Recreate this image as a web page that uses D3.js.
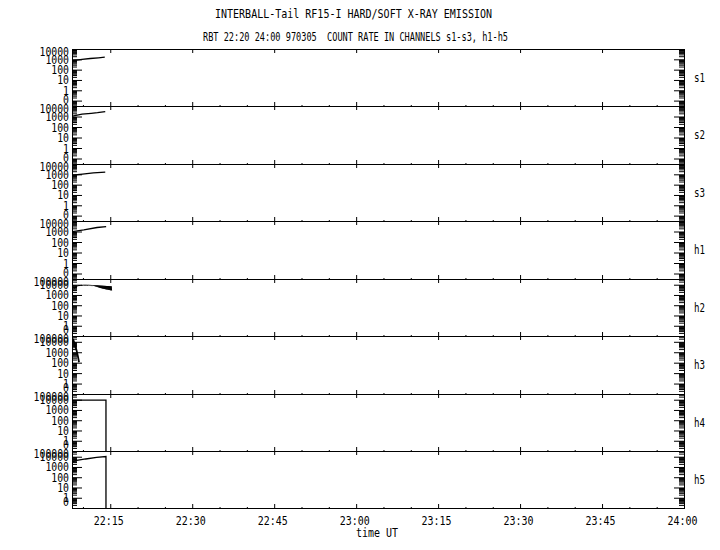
<!DOCTYPE html>
<html><head><meta charset="utf-8">
<script src="https://cdn.jsdelivr.net/npm/d3@7"></script>
<style>
body{margin:0;background:#fff}
svg{display:block}
text{font-family:"DejaVu Sans Mono",monospace;fill:#000;font-size:12px;white-space:pre}
</style>
</head><body>
<svg id="chart" width="720" height="550"></svg>
<script>
// ---------- data ----------
const title1 = "INTERBALL-Tail RF15-I HARD/SOFT X-RAY EMISSION";
const title2 = "RBT 22:20 24:00 970305  COUNT RATE IN CHANNELS s1-s3, h1-h5";
const xTitle = "time UT";
const channels = ["s1","s2","s3","h1","h2","h3","h4","h5"];
const timeStart = "22:08:00";
const timeEnd = "24:00:00";
const xTickLabels = ["22:15","22:30","22:45","23:00","23:15","23:30","23:45","24:00"];
const softDomain = [0.03, 10000];
const hardDomain = [0.1, 36000];
const softTickLabels = ["10000","1000","100","10","1","0"];
const softTickValues = [10000,1000,100,10,1,0];
const hardTickLabels = ["100000","10000","1000","100","10","1","0"];
const hardTickValues = [100000,10000,1000,100,10,1,0];

const s1Times  = ["22:08:05","22:08:50","22:09:50","22:11:20","22:12:50","22:14:00"];
const s1Counts = [750, 850, 1000, 1200, 1400, 1600];
const s2Times  = ["22:08:05","22:09:50","22:11:30","22:12:40","22:14:05"];
const s2Counts = [1100, 1700, 2000, 2300, 2900];
const s3Times  = ["22:08:05","22:09:55","22:11:55","22:14:05"];
const s3Counts = [830, 1050, 1380, 1620];
const h1Times  = ["22:08:05","22:10:10","22:12:35","22:14:15"];
const h1Counts = [970, 1420, 2400, 2950];
const h2Times  = ["22:08:20","22:08:40","22:09:05","22:09:35","22:10:05","22:10:35","22:10:56",
  "22:11:00","22:11:05","22:11:10","22:11:15","22:11:20","22:11:25","22:11:30","22:11:35","22:11:40","22:11:45","22:11:50","22:11:55",
  "22:12:00","22:12:05","22:12:10","22:12:15","22:12:20","22:12:25","22:12:30","22:12:35","22:12:40","22:12:45","22:12:50","22:12:55",
  "22:13:00","22:13:05","22:13:10","22:13:15","22:13:20","22:13:25","22:13:30","22:13:35","22:13:40","22:13:45","22:13:50","22:13:55",
  "22:14:00","22:14:05","22:14:10","22:14:15","22:14:20","22:14:25","22:14:30","22:14:35","22:14:40","22:14:45","22:14:50","22:14:55",
  "22:15:00","22:15:05","22:15:10","22:15:15"];
const h2Counts = [4000, 6000, 8000, 8500, 9000, 9000, 8800,
  9000,8800, 9000,8600, 9000,8400, 8900,8200, 8900,8000, 8800,7800,
  8800,7400, 8700,7000, 8700,6600, 8600,6200, 8500,5800, 8400,5400,
  8300,5000, 8200,4700, 8100,4500, 8000,4300, 7900,4100, 7800,3900,
  7700,3700, 7600,3500, 7500,3400, 7400,3300, 7300,3100, 7200,3000,
  7100,2850, 7000,2700];
const h3Times  = ["22:08:10","22:08:30","22:08:50","22:09:05","22:09:17"];
const h3Counts = [20000, 6000, 1500, 400, 110];
const h4Times  = ["22:08:05","22:14:13","22:14:13"];
const h4Counts = [9200, 9200, 0];
const h5Times  = ["22:08:05","22:08:52","22:10:30","22:12:30","22:14:13","22:14:13"];
const h5Counts = [3300, 4300, 6000, 8500, 10500, 0];

const seriesTimes  = [s1Times, s2Times, s3Times, h1Times, h2Times, h3Times, h4Times, h5Times];
const seriesCounts = [s1Counts, s2Counts, s3Counts, h1Counts, h2Counts, h3Counts, h4Counts, h5Counts];

// ---------- drawing ----------
const parseT = s => { const p = s.split(":").map(Number); return p[0]*60 + p[1] + (p[2]||0)/60; };
const svg = d3.select("#chart");
const left = 72, right = 684, plotTop = 49, panelH = 57.43;

const x = d3.scaleLinear().domain([parseT(timeStart), parseT(timeEnd)]).range([left, right]);
const majorX = xTickLabels.map(parseT);
const minorX = d3.range(parseT("22:10"), parseT("24:00"), 5).filter(t => Math.round(t) % 15 !== 0);

const isDecade = v => Math.abs(Math.log10(v) - Math.round(Math.log10(v))) < 1e-6;
const noDomain = g => g.select(".domain").remove();

svg.append("text").attr("x", 353.5).attr("y", 18).attr("text-anchor","middle").style("font-size","13px")
  .attr("textLength", 277).attr("lengthAdjust","spacingAndGlyphs").text(title1);
svg.append("text").attr("x", 355.5).attr("y", 41).attr("text-anchor","middle").style("font-size","13px")
  .attr("textLength", 305).attr("lengthAdjust","spacingAndGlyphs").text(title2);

channels.forEach((ch, i) => {
  const top = Math.round(plotTop + i*panelH), bottom = Math.round(plotTop + (i+1)*panelH);
  const soft = ch.startsWith("s") || ch === "h1";
  const dom = soft ? softDomain : hardDomain;
  const y = d3.scaleLog().domain(dom).range([bottom, top]).clamp(true);
  const g = svg.append("g");

  const all = y.ticks();
  const major = all.filter(isDecade), minor = all.filter(v => !isDecade(v));

  g.append("g").attr("transform", `translate(${left},0)`)
    .call(d3.axisRight(y).tickValues(minor).tickSize(5).tickFormat("")).call(noDomain);
  g.append("g").attr("transform", `translate(${left},0)`)
    .call(d3.axisRight(y).tickValues(major).tickSize(10).tickFormat("")).call(noDomain);
  g.append("g").attr("transform", `translate(${right},0)`)
    .call(d3.axisLeft(y).tickValues(minor).tickSize(5).tickFormat("")).call(noDomain);
  g.append("g").attr("transform", `translate(${right},0)`)
    .call(d3.axisLeft(y).tickValues(major).tickSize(10).tickFormat("")).call(noDomain);

  g.append("g").attr("transform", `translate(0,${top})`)
    .call(d3.axisBottom(x).tickValues(majorX).tickSize(4).tickFormat("")).call(noDomain);
  g.append("g").attr("transform", `translate(0,${top})`)
    .call(d3.axisBottom(x).tickValues(minorX).tickSize(1).tickFormat("")).call(noDomain);
  g.append("g").attr("transform", `translate(0,${bottom})`)
    .call(d3.axisTop(x).tickValues(majorX).tickSize(4).tickFormat("")).call(noDomain);
  g.append("g").attr("transform", `translate(0,${bottom})`)
    .call(d3.axisTop(x).tickValues(minorX).tickSize(1).tickFormat("")).call(noDomain);

  g.append("rect").attr("x", left + 0.5).attr("y", top + 0.5)
    .attr("width", right - left).attr("height", bottom - top)
    .attr("fill","none").attr("stroke","#000").attr("stroke-width",1);

  const labs = soft ? softTickLabels : hardTickLabels;
  const vals = soft ? softTickValues : hardTickValues;
  const yRaw = d3.scaleLog().domain(dom).range([bottom, top]);
  labs.forEach((lab, k) => {
    const v = vals[k];
    const raw = v > 0 ? yRaw(v) : bottom;
    const cy = Math.max(top + 2.5, Math.min(bottom - 7, raw));
    g.append("text").attr("x", 69).attr("y", cy + 4.5).attr("text-anchor","end")
      .attr("textLength", lab.length * 5.9).attr("lengthAdjust","spacingAndGlyphs").text(lab);
  });

  g.append("text").attr("x", 694).attr("y", (top + bottom)/2 + 4)
    .attr("textLength", 11).attr("lengthAdjust","spacingAndGlyphs").text(ch);

  const pts = seriesTimes[i].map((t, k) => ({t: parseT(t), v: seriesCounts[i][k]}));
  const line = d3.line().x(d => x(d.t)).y(d => y(Math.max(d.v, dom[0])));
  g.append("path").datum(pts).attr("d", line)
    .attr("fill","none").attr("stroke","#000").attr("stroke-width", ch === "h2" ? 1 : (ch === "h3" ? 1.8 : 1.3));
});

const bottomY = Math.round(plotTop + 8*panelH);
xTickLabels.forEach(lab => {
  svg.append("text").attr("x", x(parseT(lab)) - 1.5).attr("y", bottomY + 17).style("font-size","13px")
    .attr("text-anchor","middle").attr("textLength", 30).attr("lengthAdjust","spacingAndGlyphs").text(lab);
});
svg.append("text").attr("x", 377).attr("y", bottomY + 29).attr("text-anchor","middle").style("font-size","13px")
  .attr("textLength", 42).attr("lengthAdjust","spacingAndGlyphs").text(xTitle);
</script>
</body></html>
